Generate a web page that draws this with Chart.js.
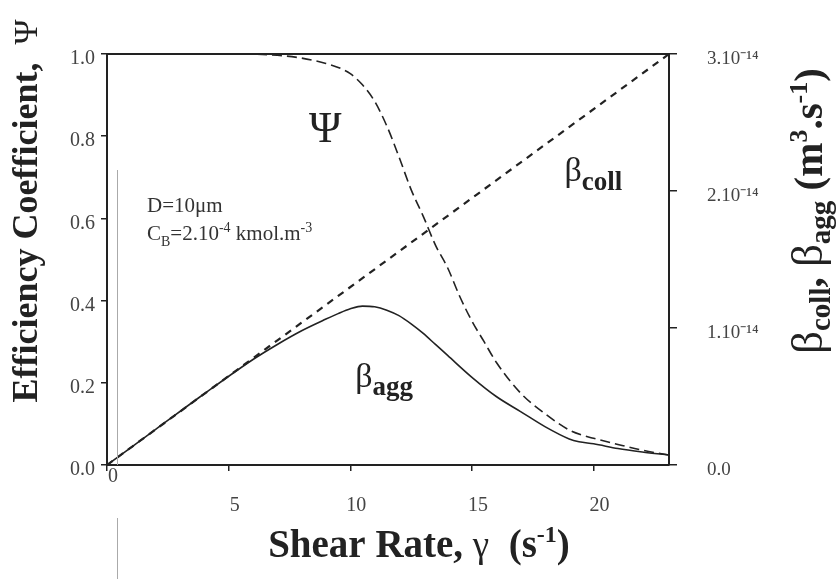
<!DOCTYPE html>
<html>
<head>
<meta charset="utf-8">
<script src="https://cdn.jsdelivr.net/npm/chart.js@4.4.0/dist/chart.umd.min.js"></script>
<style>
  html, body { margin: 0; padding: 0; background: #fff; }
  #wrap { width: 838px; height: 579px; }
</style>
</head>
<body>
<div id="wrap"><canvas id="effChart" width="838" height="579"></canvas></div>
<script>
// shear rate (1/s) and values
const psiRate = [0, 5, 7, 8, 9, 9.6, 10, 10.5, 11, 11.5, 12, 12.5, 13, 13.5, 14, 14.5, 15, 15.5, 16, 17, 18, 19, 19.5, 20, 21, 22, 23.1];
const psiValues = [1.0, 1.0, 0.997, 0.99, 0.977, 0.965, 0.952, 0.925, 0.885, 0.825, 0.75, 0.67, 0.605, 0.535, 0.48, 0.41, 0.35, 0.30, 0.25, 0.175, 0.125, 0.085, 0.073, 0.065, 0.05, 0.036, 0.024];

// beta values in units of 1e-14 m3/s
const collRate = [0, 23.1];
const collValues = [0, 3.0];

const aggRate = [0, 2, 4, 6, 7, 8, 9, 9.5, 10, 10.5, 11, 11.5, 12, 12.5, 13, 13.5, 14, 15, 16, 17, 18, 19, 19.4, 20, 21, 22, 23.1];
const aggValues = [0, 0.26, 0.52, 0.77, 0.88, 0.98, 1.065, 1.105, 1.14, 1.16, 1.155, 1.13, 1.09, 1.03, 0.96, 0.88, 0.80, 0.64, 0.50, 0.39, 0.28, 0.19, 0.17, 0.155, 0.12, 0.095, 0.073];

const rightTickLabels = ['0.0', '1.10\u207B\u00B9\u2074', '2.10\u207B\u00B9\u2074', '3.10\u207B\u00B9\u2074'];

const SERIF = '"Liberation Serif", "Times New Roman", serif';
const INK = '#222';

function toPoints(xs, ys) {
    return xs.map((x, i) => ({ x: x, y: ys[i] }));
}

function drawRich(ctx, parts, x, y, align) {
    let total = 0;
    parts.forEach(p => {
        ctx.font = p.font;
        p.w = ctx.measureText(p.text).width;
        total += p.w;
    });
    let cx = align === 'center' ? x - total / 2 : x;
    parts.forEach(p => {
        ctx.font = p.font;
        ctx.fillText(p.text, cx, y + (p.dy || 0));
        cx += p.w;
    });
}

const figureText = {
    id: 'figureText',
    afterDraw(chart) {
        const ctx = chart.ctx;
        const area = chart.chartArea;
        const xs = chart.scales.x;
        const ys = chart.scales.y;
        ctx.save();
        // top frame line
        ctx.strokeStyle = INK;
        ctx.lineWidth = 2;
        ctx.beginPath();
        ctx.moveTo(area.left, area.top);
        ctx.lineTo(area.right, area.top);
        ctx.stroke();

        // faint scan line
        ctx.strokeStyle = '#aaa';
        ctx.lineWidth = 1;
        ctx.beginPath();
        ctx.moveTo(117.5, 170);
        ctx.lineTo(117.5, area.bottom);
        ctx.moveTo(117.5, 518);
        ctx.lineTo(117.5, 579);
        ctx.stroke();

        ctx.fillStyle = INK;
        ctx.textAlign = 'left';
        ctx.textBaseline = 'alphabetic';

        // left title
        ctx.save();
        ctx.translate(37, 211);
        ctx.rotate(-Math.PI / 2);
        drawRich(ctx, [
            { text: 'Efficiency Coefficient,  ', font: 'bold 36px ' + SERIF },
            { text: '\u03A8', font: '34px ' + SERIF }
        ], 0, 0, 'center');
        ctx.restore();

        // right title
        ctx.save();
        ctx.translate(822, 211);
        ctx.rotate(-Math.PI / 2);
        drawRich(ctx, [
            { text: '\u03B2', font: '45px ' + SERIF },
            { text: 'coll', font: 'bold 29px ' + SERIF, dy: 8 },
            { text: ', ', font: 'bold 41px ' + SERIF },
            { text: '\u03B2', font: '45px ' + SERIF },
            { text: 'agg', font: 'bold 29px ' + SERIF, dy: 8 },
            { text: ' (m', font: 'bold 41px ' + SERIF },
            { text: '3', font: 'bold 26px ' + SERIF, dy: -15 },
            { text: '.s', font: 'bold 41px ' + SERIF },
            { text: '-1', font: 'bold 26px ' + SERIF, dy: -15 },
            { text: ')', font: 'bold 41px ' + SERIF }
        ], 0, 0, 'center');
        ctx.restore();

        // x title
        drawRich(ctx, [
            { text: 'Shear Rate, ', font: 'bold 39px ' + SERIF },
            { text: '\u03B3', font: '37px ' + SERIF },
            { text: '  (s', font: 'bold 39px ' + SERIF },
            { text: '-1', font: 'bold 24px ' + SERIF, dy: -15 },
            { text: ')', font: 'bold 39px ' + SERIF }
        ], 419, 557, 'center');

        // curve labels
        drawRich(ctx, [{ text: '\u03A8', font: '44px ' + SERIF }], xs.getPixelForValue(8.3), ys.getPixelForValue(0.785), 'left');
        drawRich(ctx, [
            { text: '\u03B2', font: '34px ' + SERIF },
            { text: 'coll', font: 'bold 27px ' + SERIF, dy: 9 }
        ], xs.getPixelForValue(18.8), ys.getPixelForValue(0.69), 'left');
        drawRich(ctx, [
            { text: '\u03B2', font: '34px ' + SERIF },
            { text: 'agg', font: 'bold 27px ' + SERIF, dy: 8 }
        ], xs.getPixelForValue(10.2), ys.getPixelForValue(0.19), 'left');

        // conditions
        ctx.fillStyle = '#333';
        drawRich(ctx, [{ text: 'D=10\u03BCm', font: '21px ' + SERIF }], 147, 212, 'left');
        drawRich(ctx, [
            { text: 'C', font: '21px ' + SERIF },
            { text: 'B', font: '14px ' + SERIF, dy: 6 },
            { text: '=2.10', font: '21px ' + SERIF },
            { text: '-4', font: '14px ' + SERIF, dy: -8 },
            { text: ' kmol.m', font: '21px ' + SERIF },
            { text: '-3', font: '14px ' + SERIF, dy: -8 }
        ], 147, 240, 'left');
        ctx.restore();
    }
};

const ctx = document.getElementById('effChart').getContext('2d');
new Chart(ctx, {
    type: 'line',
    data: {
        datasets: [
            {
                label: 'Psi',
                data: toPoints(psiRate, psiValues),
                yAxisID: 'y',
                borderColor: INK,
                borderWidth: 1.6,
                borderDash: [10, 5],
                pointRadius: 0,
                cubicInterpolationMode: 'monotone',
                fill: false
            },
            {
                label: 'beta coll',
                data: toPoints(collRate, collValues),
                yAxisID: 'y1',
                borderColor: INK,
                borderWidth: 2.2,
                borderDash: [7, 6],
                pointRadius: 0,
                fill: false
            },
            {
                label: 'beta agg',
                data: toPoints(aggRate, aggValues),
                yAxisID: 'y1',
                borderColor: INK,
                borderWidth: 1.6,
                pointRadius: 0,
                cubicInterpolationMode: 'monotone',
                fill: false
            }
        ]
    },
    options: {
        responsive: false,
        animation: false,
        devicePixelRatio: 1,
        layout: { padding: { top: 54, left: 0, right: 0, bottom: 0 } },
        plugins: {
            legend: { display: false },
            tooltip: { enabled: false }
        },
        scales: {
            x: {
                type: 'linear',
                min: 0,
                max: 23.1,
                afterFit: (s) => { s.height = 114; },
                border: { color: INK, width: 2 },
                grid: { drawOnChartArea: false, tickLength: 6, color: INK, lineWidth: 1.5 },
                ticks: {
                    stepSize: 5,
                    includeBounds: false,
                    autoSkip: false,
                    maxRotation: 0,
                    padding: -9,
                    labelOffset: 6,
                    color: '#444',
                    font: { family: SERIF, size: 20, lineHeight: 1.45 },
                    callback: (v) => v === 0 ? ['0', ''] : ['', String(v)]
                }
            },
            y: {
                type: 'linear',
                position: 'left',
                min: 0,
                max: 1,
                afterFit: (s) => { s.width = 107; },
                border: { color: INK, width: 2 },
                grid: { drawOnChartArea: false, tickLength: 6, color: INK, lineWidth: 1.5 },
                ticks: {
                    stepSize: 0.2,
                    padding: 6,
                    labelOffset: 5,
                    color: '#444',
                    font: { family: SERIF, size: 20 },
                    callback: (v) => v.toFixed(1)
                }
            },
            y1: {
                type: 'linear',
                position: 'right',
                min: 0,
                max: 3,
                afterFit: (s) => { s.width = 169; },
                border: { color: INK, width: 2 },
                grid: { drawOnChartArea: false, tickLength: 8, color: INK, lineWidth: 1.5 },
                ticks: {
                    stepSize: 1,
                    padding: 30,
                    labelOffset: 5,
                    color: '#444',
                    font: { family: SERIF, size: 19 },
                    callback: (v, i) => rightTickLabels[i]
                }
            }
        }
    },
    plugins: [figureText]
});
</script>
</body>
</html>
